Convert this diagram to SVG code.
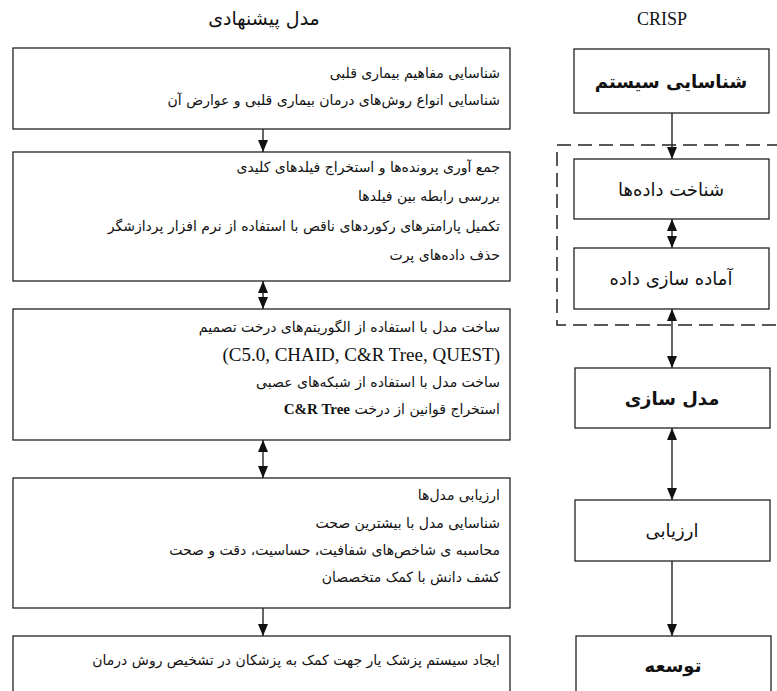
<svg xmlns="http://www.w3.org/2000/svg" width="777" height="691" viewBox="0 0 777 691">
<style>
.box{fill:#fff;stroke:#222;stroke-width:1.3}
.dash{fill:none;stroke:#222;stroke-width:1.5;stroke-dasharray:14 7}
.con{stroke:#111;stroke-width:1.3;fill:none}
.fa{font-family:"DejaVu Sans","Noto Sans",sans-serif;fill:#111}
.l{font-size:14px;direction:rtl;text-anchor:start}
.r{font-size:18px;text-anchor:middle}
.lat{font-family:"Liberation Serif",serif;fill:#111}
</style>
<defs>
<marker id="ah" viewBox="0 0 12 10" markerWidth="12" markerHeight="10" refX="12" refY="5" orient="auto-start-reverse" markerUnits="userSpaceOnUse">
<path d="M0,0 L12,5 L0,10 z" fill="#111"/>
</marker>
</defs>
<text class="fa" x="264" y="25" font-size="19" text-anchor="middle">مدل پیشنهادی</text>
<text class="lat" x="662" y="25" font-size="18" text-anchor="middle">CRISP</text>

<g id="connectors">
<line class="con" x1="263" y1="129" x2="263" y2="152" marker-end="url(#ah)"/>
<line class="con" x1="263" y1="281" x2="263" y2="309" marker-start="url(#ah)" marker-end="url(#ah)"/>
<line class="con" x1="263" y1="440" x2="263" y2="478" marker-start="url(#ah)" marker-end="url(#ah)"/>
<line class="con" x1="263" y1="608" x2="263" y2="636" marker-end="url(#ah)"/>
<line class="con" x1="672" y1="113" x2="672" y2="159" marker-end="url(#ah)"/>
<line class="con" x1="672" y1="219" x2="672" y2="248" marker-start="url(#ah)" marker-end="url(#ah)"/>
<line class="con" x1="672" y1="309" x2="672" y2="368" marker-start="url(#ah)" marker-end="url(#ah)"/>
<line class="con" x1="672" y1="428" x2="672" y2="500" marker-start="url(#ah)" marker-end="url(#ah)"/>
<line class="con" x1="672" y1="561" x2="672" y2="636" marker-end="url(#ah)"/>
</g>

<rect id="data-group" class="dash" x="557" y="145" width="240" height="180"/>

<g id="p1">
<rect class="box" x="13" y="48" width="497" height="81"/>
<text class="fa l" x="500" y="78">شناسایی مفاهیم بیماری قلبی</text>
<text class="fa l" x="500" y="105">شناسایی انواع روش‌های درمان بیماری قلبی و عوارض آن</text>
</g>
<g id="p2">
<rect class="box" x="13" y="152" width="497" height="129"/>
<text class="fa l" x="500" y="172">جمع آوری پرونده‌ها و استخراج فیلدهای کلیدی</text>
<text class="fa l" x="500" y="201">بررسی رابطه بین فیلدها</text>
<text class="fa l" x="500" y="231">تکمیل پارامترهای رکوردهای ناقص با استفاده از نرم افزار پردازشگر</text>
<text class="fa l" x="500" y="260">حذف داده‌های پرت</text>
</g>
<g id="p3">
<rect class="box" x="13" y="309" width="497" height="131"/>
<text class="fa l" x="500" y="332">ساخت مدل با استفاده از الگوریتم‌های درخت تصمیم</text>
<text class="lat" x="500" y="361" font-size="19" text-anchor="end">(C5.0, CHAID, C&amp;R Tree, QUEST)</text>
<text class="fa l" x="500" y="387">ساخت مدل با استفاده از شبکه‌های عصبی</text>
<text class="fa l" x="500" y="414">استخراج قوانین از درخت <tspan class="lat" font-weight="bold" font-size="15">C&amp;R Tree</tspan></text>
</g>
<g id="p4">
<rect class="box" x="13" y="478" width="497" height="130"/>
<text class="fa l" x="500" y="500">ارزیابی مدل‌ها</text>
<text class="fa l" x="500" y="528">شناسایی مدل با بیشترین صحت</text>
<text class="fa l" x="500" y="555">محاسبه ی شاخص‌های شفافیت، حساسیت، دقت و صحت</text>
<text class="fa l" x="500" y="582">کشف دانش با کمک متخصصان</text>
</g>
<g id="p5">
<rect class="box" x="13" y="636" width="497" height="70"/>
<text class="fa l" x="500" y="665">ایجاد سیستم پزشک یار جهت کمک به پزشکان در تشخیص روش درمان</text>
</g>

<g id="c1">
<rect class="box" x="574" y="49" width="195" height="64"/>
<text class="fa r" x="671" y="88" font-weight="bold">شناسایی سیستم</text>
</g>
<g id="c2">
<rect class="box" x="574" y="159" width="195" height="60"/>
<text class="fa r" x="671" y="196" font-size="19">شناخت داده‌ها</text>
</g>
<g id="c3">
<rect class="box" x="574" y="248" width="195" height="61"/>
<text class="fa r" x="671" y="285">آماده سازی داده</text>
</g>
<g id="c4">
<rect class="box" x="575" y="368" width="195" height="60"/>
<text class="fa r" x="672" y="405" font-weight="bold">مدل سازی</text>
</g>
<g id="c5">
<rect class="box" x="575" y="500" width="195" height="61"/>
<text class="fa r" x="672" y="537">ارزیابی</text>
</g>
<g id="c6">
<rect class="box" x="576" y="636" width="195" height="70"/>
<text class="fa r" x="673" y="672" font-weight="bold">توسعه</text>
</g>
</svg>
